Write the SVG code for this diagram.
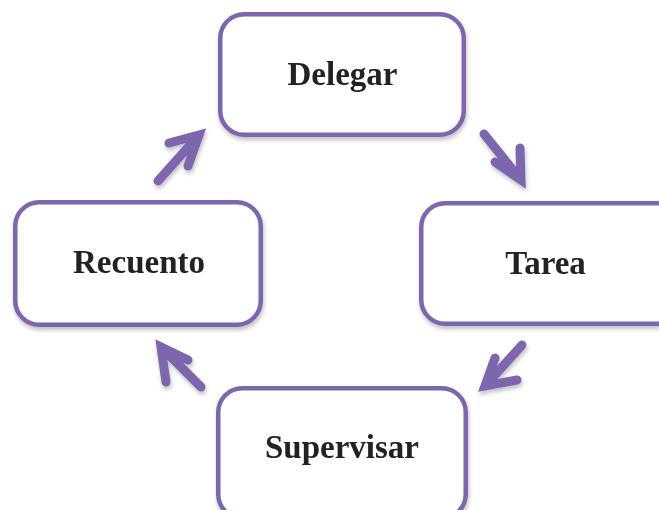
<svg xmlns="http://www.w3.org/2000/svg" width="659" height="510" viewBox="0 0 659 510">
  <defs>
    <filter id="sh" x="-20%" y="-20%" width="140%" height="140%">
      <feGaussianBlur in="SourceAlpha" stdDeviation="2"/>
      <feOffset dx="1" dy="3" result="b"/>
      <feComponentTransfer><feFuncA type="linear" slope="0.25"/></feComponentTransfer>
      <feMerge><feMergeNode/><feMergeNode in="SourceGraphic"/></feMerge>
    </filter>
  </defs>
  <style>
    .box { fill: #ffffff; stroke: #7b66ad; stroke-width: 4.5; }
    .lbl { font-family: "Liberation Serif", "Times New Roman", serif; font-weight: bold; font-size: 33px; fill: #222222; text-anchor: middle; }
    .arr { fill: none; stroke: #7b66ad; stroke-width: 9; stroke-linecap: round; stroke-linejoin: miter; stroke-miterlimit: 10; }
  </style>
  <rect width="659" height="510" fill="#ffffff"/>
  <g id="connectors" filter="url(#sh)">
    <path class="arr" d="M158,181 L199,135 M169,143 L199,135 L188,166"/>
    <path class="arr" d="M484,134 L521,180 M520,148 L521,180 L495,162"/>
    <path class="arr" d="M522,345 L485,386 M495,358 L485,386 L517,380"/>
    <path class="arr" d="M201,387 L161,347 M188,360 L161,347 L166,382"/>
  </g>
  <g id="delegar" filter="url(#sh)">
    <rect class="box" x="220.25" y="14.25" width="243.5" height="120.5" rx="24"/>
    <text class="lbl" x="342.5" y="85">Delegar</text>
  </g>
  <g id="tarea" filter="url(#sh)">
    <rect class="box" x="421.25" y="203.25" width="262" height="120.5" rx="24"/>
    <text class="lbl" x="545.5" y="274">Tarea</text>
  </g>
  <g id="supervisar" filter="url(#sh)">
    <rect class="box" x="218.25" y="388.25" width="247.5" height="130" rx="24"/>
    <text class="lbl" x="342" y="458">Supervisar</text>
  </g>
  <g id="recuento" filter="url(#sh)">
    <rect class="box" x="15.25" y="202.25" width="245.5" height="122.5" rx="24"/>
    <text class="lbl" x="139" y="273">Recuento</text>
  </g>
</svg>
